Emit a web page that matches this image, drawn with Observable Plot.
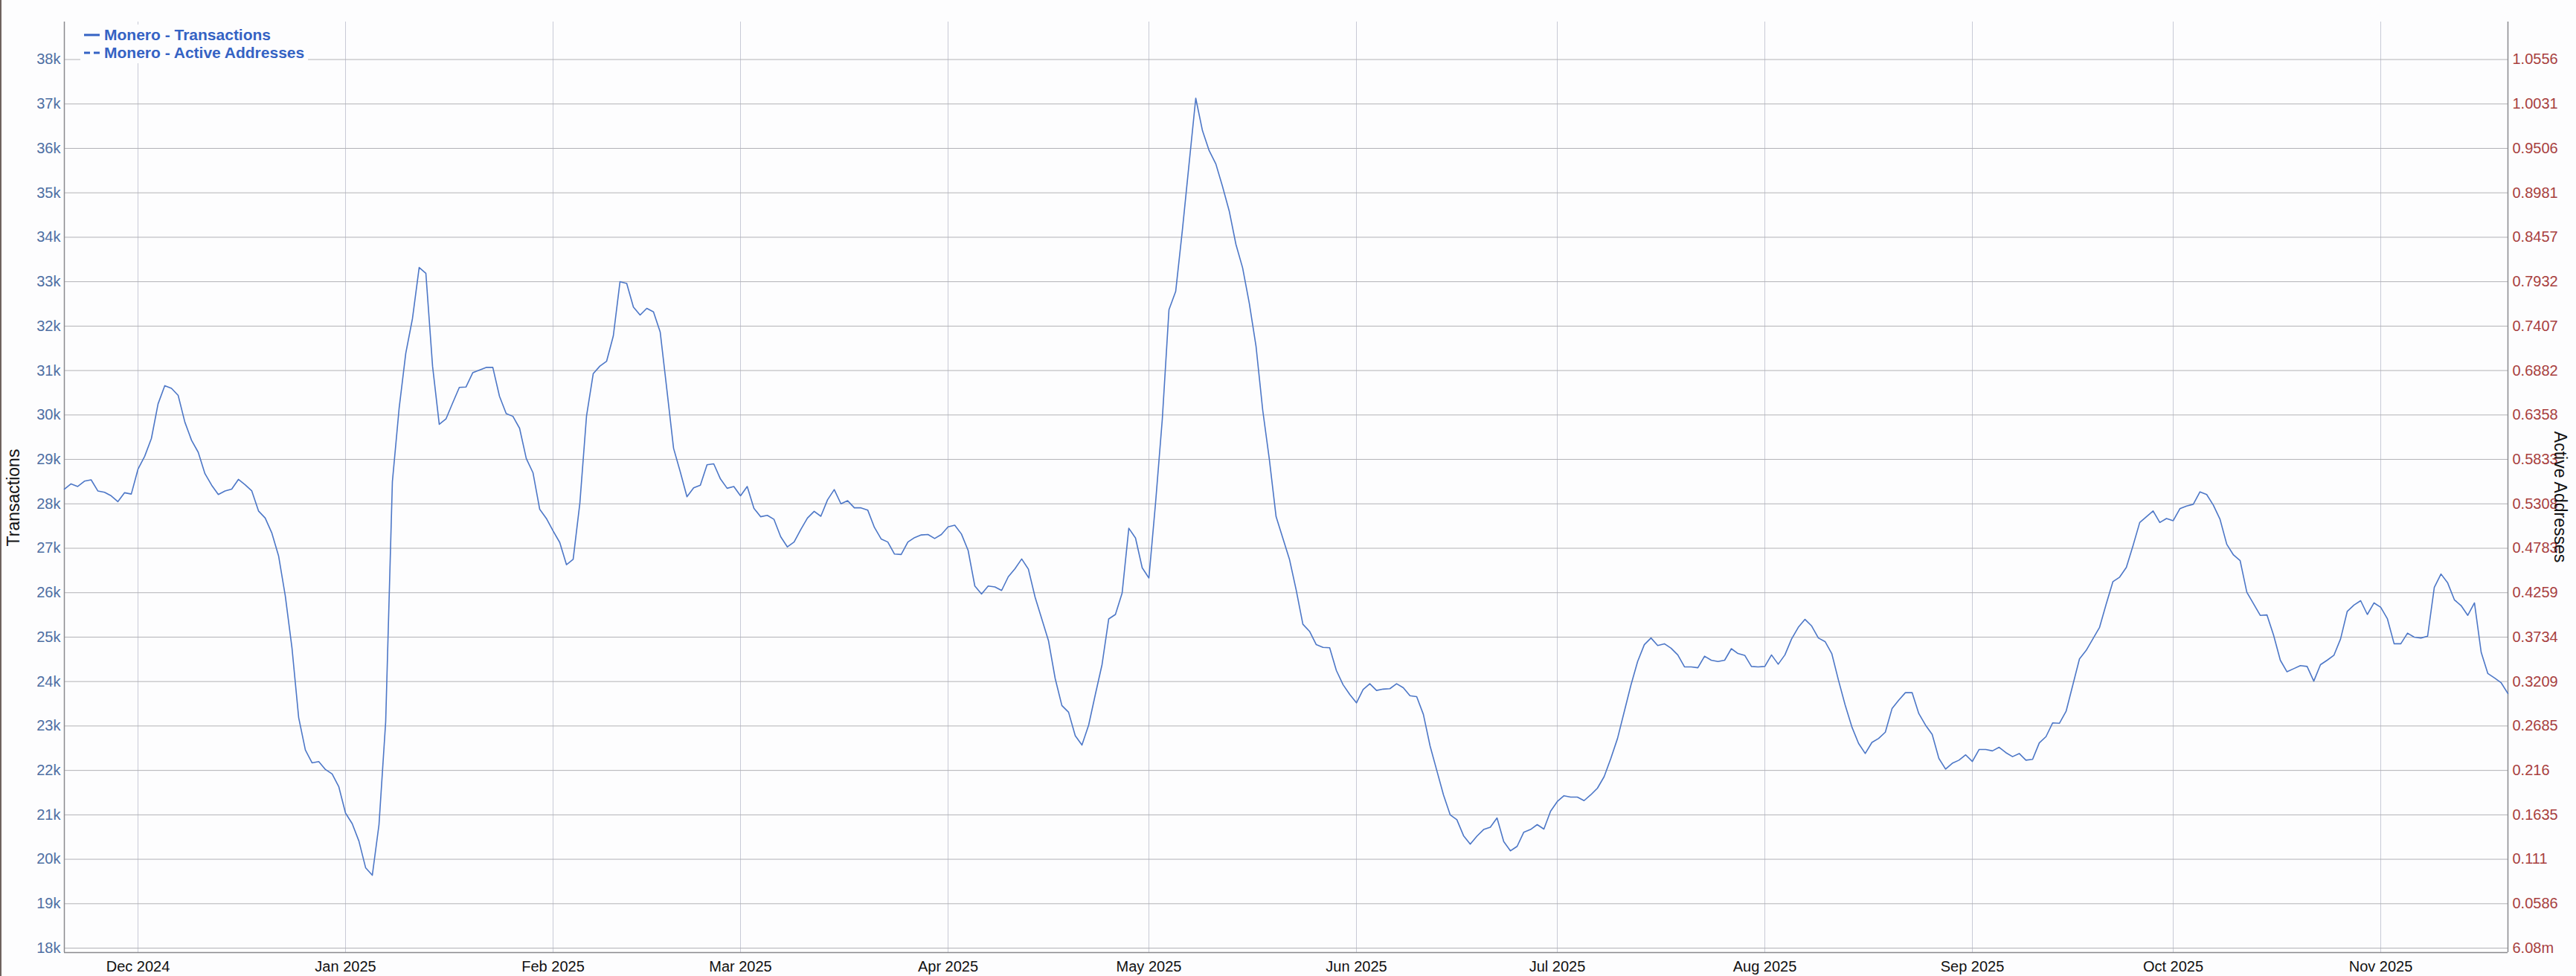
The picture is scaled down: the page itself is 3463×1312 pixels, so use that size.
<!DOCTYPE html>
<html>
<head>
<meta charset="utf-8">
<script src="https://cdn.jsdelivr.net/npm/d3@7"></script>
<script src="https://cdn.jsdelivr.net/npm/@observablehq/plot@0.6"></script>
<style>
  html, body { margin: 0; padding: 0; background: #ffffff; }
  #wrap { position: relative; width: 3463px; height: 1312px; overflow: hidden;
          font-family: "Liberation Sans", Arial, sans-serif; background: #fdfdfe; }
  #edge { position: absolute; left: 0; top: 0; width: 2px; height: 1312px; background: #6e625e; }
  #legend { position: absolute; left: 108px; top: 33px; padding: 2px 5px; background: #fdfdfe;
            font-weight: bold; font-size: 21px; color: #3563c4; line-height: 24px; }
  #legend .row { display: flex; align-items: center; white-space: nowrap; }
  #legend svg { margin-right: 6px; }
  .ytitle { position: absolute; font-size: 23px; color: #111; white-space: nowrap; }
</style>
</head>
<body>
<div id="wrap">
  <div id="chart"></div>
  <div id="edge"></div>
  <div id="legend"></div>
  <div class="ytitle" id="tleft"></div>
  <div class="ytitle" id="tright"></div>
</div>
<script>
// ---- Data (thousands of transactions per day) ----
const seriesNames = ["Monero - Transactions", "Monero - Active Addresses"];
const axisTitles = ["Transactions", "Active Addresses"];

const tx2024_11 = [28.33, 28.45, 28.39, 28.51, 28.54, 28.29, 28.26, 28.18, 28.05, 28.25, 28.22]; // from Nov 20
const tx2024_12 = [28.78, 29.07, 29.47, 30.25, 30.66, 30.60, 30.44, 29.84, 29.43, 29.16,
                   28.68, 28.42, 28.21, 28.29, 28.33, 28.55, 28.43, 28.29, 27.84, 27.68,
                   27.34, 26.83, 25.93, 24.76, 23.19, 22.46, 22.17, 22.20, 22.02, 21.92, 21.63];
const tx2025_01 = [21.04, 20.80, 20.41, 19.81, 19.64, 20.78, 23.10, 28.50, 30.14, 31.39,
                   32.17, 33.32, 33.19, 31.10, 29.79, 29.91, 30.27, 30.62, 30.63, 30.95,
                   31.01, 31.07, 31.07, 30.42, 30.03, 29.97, 29.70, 29.02, 28.70, 27.88, 27.67];
const tx2025_02 = [27.39, 27.13, 26.63, 26.75, 28.01, 29.98, 30.93, 31.10, 31.21, 31.78,
                   33.00, 32.96, 32.43, 32.25, 32.40, 32.32, 31.87, 30.57, 29.25, 28.72,
                   28.16, 28.36, 28.42, 28.88, 28.90, 28.56, 28.35, 28.39];
const tx2025_03 = [28.18, 28.39, 27.90, 27.71, 27.74, 27.65, 27.26, 27.03, 27.14, 27.42,
                   27.68, 27.83, 27.72, 28.09, 28.32, 28.00, 28.07, 27.91, 27.91, 27.86,
                   27.47, 27.21, 27.14, 26.87, 26.86, 27.14, 27.24, 27.30, 27.31, 27.22, 27.31];
const tx2025_04 = [27.48, 27.52, 27.32, 26.95, 26.15, 25.97, 26.15, 26.13, 26.05, 26.36,
                   26.54, 26.76, 26.53, 25.90, 25.41, 24.92, 24.07, 23.46, 23.31, 22.78,
                   22.57, 23.02, 23.71, 24.38, 25.41, 25.51, 25.99, 27.45, 27.23, 26.56];
const tx2025_05 = [26.33, 28.03, 29.90, 32.37, 32.78, 34.16, 35.65, 37.13, 36.40, 35.95,
                   35.65, 35.14, 34.59, 33.84, 33.31, 32.51, 31.55, 30.11, 28.99, 27.71,
                   27.23, 26.75, 26.06, 25.29, 25.13, 24.83, 24.77, 24.76, 24.25, 23.93, 23.71];
const tx2025_06 = [23.52, 23.82, 23.95, 23.80, 23.83, 23.84, 23.95, 23.86, 23.68, 23.66,
                   23.26, 22.55, 22.00, 21.45, 21.00, 20.89, 20.53, 20.34, 20.52, 20.67,
                   20.72, 20.93, 20.40, 20.19, 20.29, 20.61, 20.67, 20.78, 20.68, 21.08];
const tx2025_07 = [21.30, 21.43, 21.40, 21.40, 21.32, 21.45, 21.60, 21.86, 22.27, 22.72,
                   23.32, 23.92, 24.45, 24.83, 24.98, 24.81, 24.85, 24.75, 24.60, 24.33,
                   24.33, 24.31, 24.57, 24.48, 24.45, 24.48, 24.74, 24.63, 24.59, 24.34, 24.33];
const tx2025_08 = [24.34, 24.60, 24.39, 24.60, 24.96, 25.22, 25.40, 25.25, 24.98, 24.90,
                   24.63, 24.03, 23.47, 22.98, 22.61, 22.38, 22.63, 22.72, 22.86, 23.39,
                   23.58, 23.75, 23.75, 23.28, 23.02, 22.81, 22.27, 22.03, 22.16, 22.23, 22.35];
const tx2025_09 = [22.20, 22.47, 22.47, 22.44, 22.52, 22.40, 22.31, 22.38, 22.23, 22.25,
                   22.62, 22.76, 23.07, 23.06, 23.33, 23.92, 24.51, 24.70, 24.96, 25.22,
                   25.75, 26.25, 26.35, 26.57, 27.06, 27.58, 27.71, 27.84, 27.58, 27.67];
const tx2025_10 = [27.62, 27.89, 27.95, 27.99, 28.27, 28.21, 27.97, 27.65, 27.09, 26.85,
                   26.72, 26.01, 25.75, 25.49, 25.50, 25.04, 24.48, 24.22, 24.29, 24.36,
                   24.34, 24.01, 24.38, 24.48, 24.59, 24.96, 25.58, 25.72, 25.82, 25.51, 25.77];
const tx2025_11 = [25.67, 25.41, 24.85, 24.85, 25.09, 25.00, 24.98, 25.02, 26.12, 26.42,
                   26.22, 25.84, 25.71, 25.49, 25.77, 24.66, 24.18, 24.08, 23.97, 23.73];

const monthBlocks = [
  ["2024-11-20", tx2024_11], ["2024-12-01", tx2024_12], ["2025-01-01", tx2025_01],
  ["2025-02-01", tx2025_02], ["2025-03-01", tx2025_03], ["2025-04-01", tx2025_04],
  ["2025-05-01", tx2025_05], ["2025-06-01", tx2025_06], ["2025-07-01", tx2025_07],
  ["2025-08-01", tx2025_08], ["2025-09-01", tx2025_09], ["2025-10-01", tx2025_10],
  ["2025-11-01", tx2025_11]
];

// Axis ticks / labels
const yTicks = [18, 19, 20, 21, 22, 23, 24, 25, 26, 27, 28, 29, 30, 31, 32, 33, 34, 35, 36, 37, 38];
const rightLabels = ["6.08m", "0.0586", "0.111", "0.1635", "0.216", "0.2685", "0.3209", "0.3734",
                     "0.4259", "0.4783", "0.5308", "0.5833", "0.6358", "0.6882", "0.7407", "0.7932",
                     "0.8457", "0.8981", "0.9506", "1.0031", "1.0556"];
const monthTickDates = ["2024-12-01", "2025-01-01", "2025-02-01", "2025-03-01", "2025-04-01", "2025-05-01",
                        "2025-06-01", "2025-07-01", "2025-08-01", "2025-09-01", "2025-10-01", "2025-11-01"];
const xDomainDates = ["2024-11-20", "2025-11-20"];
const yDomain = [17.9, 38.846];

// ---- Build table ----
const parse = d3.utcParse("%Y-%m-%d");
const table = [];
for (const [start, vals] of monthBlocks) {
  const s = parse(start);
  vals.forEach((v, i) => table.push({date: d3.utcDay.offset(s, i), value: v}));
}
const monthTicks = monthTickDates.map(parse);
const xDomain = xDomainDates.map(parse);

const FONT = "'Liberation Sans', Arial, sans-serif";
const chart = Plot.plot({
  width: 3463,
  height: 1312,
  marginLeft: 86,
  marginRight: 92,
  marginTop: 29,
  marginBottom: 32,
  style: {fontFamily: FONT, fontSize: "20px", background: "transparent", overflow: "visible"},
  x: {type: "utc", domain: xDomain},
  y: {domain: yDomain},
  marks: [
    Plot.gridX(monthTicks, {stroke: "#c8cad6", strokeOpacity: 1, strokeWidth: 1}),
    Plot.gridY(yTicks, {stroke: "#b2b2b6", strokeOpacity: 1, strokeWidth: 1}),
    Plot.ruleX(xDomain, {stroke: "#8a8a8e", strokeWidth: 1.5}),
    Plot.ruleY([yDomain[0]], {stroke: "#8a8a8e", strokeWidth: 1.5}),
    Plot.axisY(yTicks, {anchor: "left", tickSize: 0, tickPadding: 5, label: null,
      tickFormat: d => d + "k", fill: "#4e6fa3", fontSize: 20}),
    Plot.axisY(yTicks, {anchor: "right", tickSize: 0, tickPadding: 6, label: null,
      tickFormat: d => rightLabels[yTicks.indexOf(d)], fill: "#a8403f", fontSize: 20}),
    Plot.axisX(monthTicks, {anchor: "bottom", tickSize: 0, tickPadding: 11, label: null,
      tickFormat: d3.utcFormat("%b %Y"), fill: "#111111", fontSize: 20}),
    Plot.lineY(table, {x: "date", y: "value", stroke: "#4d77c7", strokeWidth: 1.6})
  ]
});
document.getElementById("chart").appendChild(chart);

// ---- Legend ----
const legend = document.getElementById("legend");
seriesNames.forEach((name, i) => {
  const row = document.createElement("div");
  row.className = "row";
  const dash = i === 0 ? "" : "stroke-dasharray='8,5'";
  row.innerHTML = `<svg width="21" height="24"><line x1="0" x2="21" y1="12" y2="12" stroke="#3563c4" stroke-width="3" ${dash}/></svg><span>${name}</span>`;
  legend.appendChild(row);
});

// ---- Axis titles ----
const tl = document.getElementById("tleft");
tl.textContent = axisTitles[0];
tl.style.left = "17.5px"; tl.style.top = "669px";
tl.style.transform = "translate(-50%,-50%) rotate(-90deg)";
const tr = document.getElementById("tright");
tr.textContent = axisTitles[1];
tr.style.left = "3441px"; tr.style.top = "668px";
tr.style.transform = "translate(-50%,-50%) rotate(90deg)";
</script>
</body>
</html>
